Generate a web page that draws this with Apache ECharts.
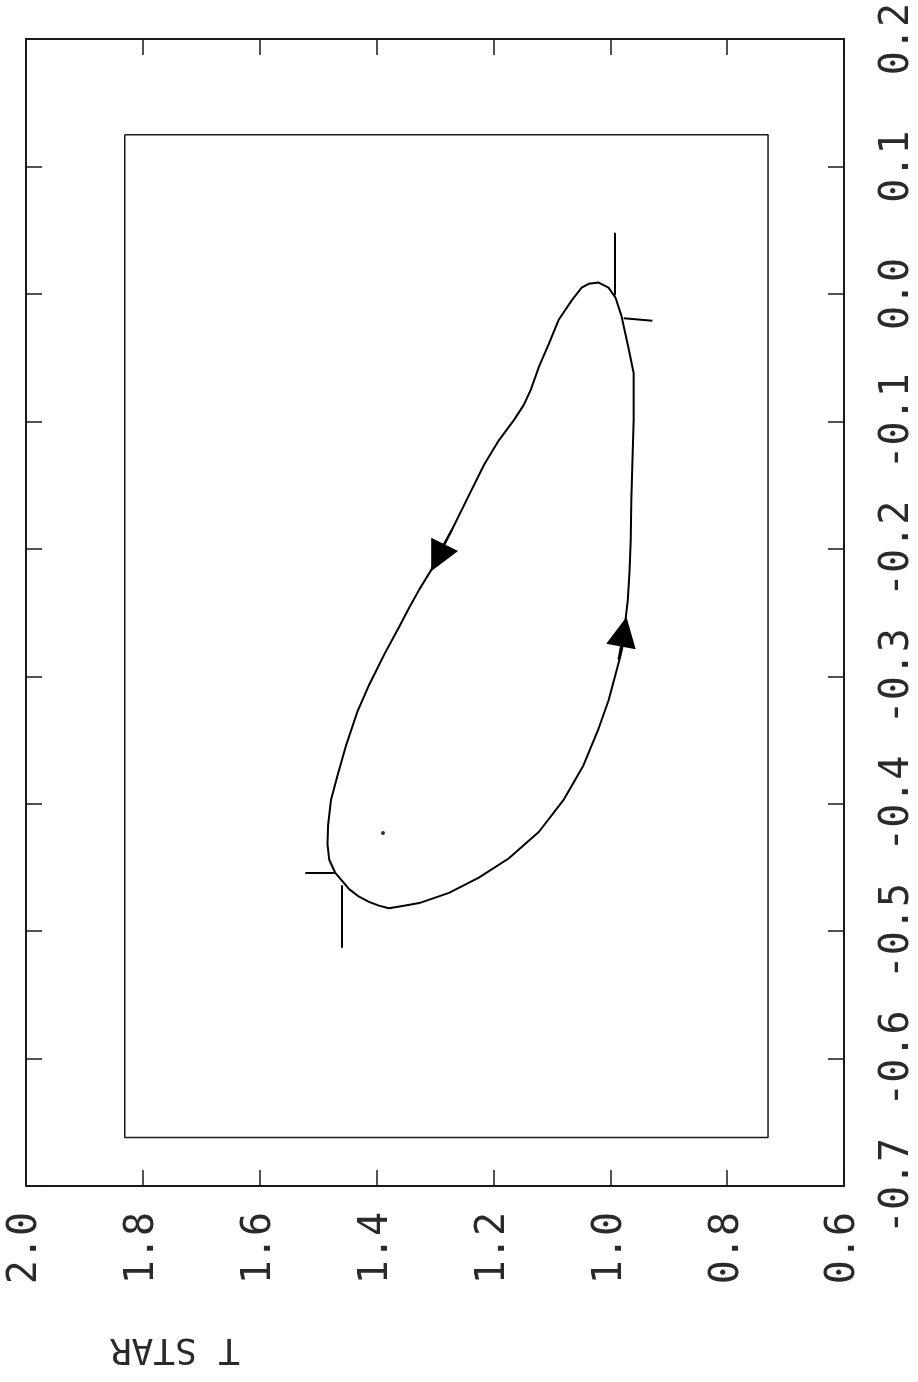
<!DOCTYPE html>
<html>
<head>
<meta charset="utf-8">
<script src="https://cdn.jsdelivr.net/npm/echarts@6/dist/echarts.min.js"></script>
<style>
  html, body { margin: 0; padding: 0; background: #fff; }
  #chart { width: 918px; height: 1382px; }
</style>
</head>
<body>
<div id="chart"></div>
<script>
// Phase-plane loop: T STAR (horizontal, decreasing to the right) versus phase (vertical)
const tTicks = [0.6, 0.8, 1.0, 1.2, 1.4, 1.6, 1.8, 2.0];
const phaseTicks = [-0.7, -0.6, -0.5, -0.4, -0.3, -0.2, -0.1, 0.0, 0.1, 0.2];

// Trajectory, traced counter-clockwise from the lowest point
const loopT = [1.379, 1.353, 1.327, 1.276, 1.225, 1.174, 1.122, 1.080, 1.046, 1.020,
  1.003, 0.989, 0.982, 0.977, 0.974, 0.970, 0.967, 0.965, 0.964, 0.962,
  0.960, 0.960, 0.969, 0.981, 0.991, 1.003, 1.020, 1.037, 1.049, 1.066,
  1.088, 1.105, 1.122, 1.136, 1.148, 1.165, 1.191, 1.216, 1.242, 1.271,
  1.293, 1.307, 1.327, 1.344, 1.361, 1.387, 1.413, 1.433, 1.452, 1.467,
  1.478, 1.483, 1.484, 1.481, 1.471, 1.460, 1.447, 1.430, 1.413, 1.396, 1.379];
const loopPhase = [-0.482, -0.480, -0.478, -0.470, -0.458, -0.443, -0.422, -0.397, -0.370, -0.341,
  -0.319, -0.295, -0.283, -0.272, -0.256, -0.240, -0.217, -0.193, -0.162, -0.130,
  -0.099, -0.062, -0.042, -0.017, -0.003, 0.005, 0.009, 0.008, 0.005, -0.005,
  -0.020, -0.039, -0.057, -0.075, -0.087, -0.099, -0.115, -0.134, -0.158, -0.185,
  -0.203, -0.217, -0.232, -0.246, -0.261, -0.283, -0.307, -0.328, -0.354, -0.378,
  -0.397, -0.417, -0.432, -0.444, -0.454, -0.460, -0.467, -0.473, -0.477, -0.480, -0.482];

// Window rectangle (T range, phase range)
const windowT = [1.831, 0.730];
const windowPhase = [0.125, -0.662];

// Marker strokes: [[T1, phase1], [T2, phase2]]
const markerSegments = [
  [[0.993, 0.048], [0.993, -0.001]],
  [[0.977, -0.019], [0.928, -0.021]],
  [[1.522, -0.454], [1.472, -0.454]],
  [[1.459, -0.464], [1.459, -0.513]]
];

// Direction arrows: [[T, phase] tail, [T, phase] head]
const arrowSegments = [
  [[1.271, -0.185], [1.295, -0.207]],
  [[0.986, -0.287], [0.977, -0.265]]
];

// Isolated point inside the loop
const centrePoint = [[1.389, -0.423]];

const INK = '#1a1a1a';
const labelFont = { fontFamily: 'DejaVu Sans Mono', fontSize: 40, color: '#2a2a2a' };

const loopData = loopT.map((t, i) => [t, loopPhase[i]]);
const windowData = [
  [windowT[0], windowPhase[0]], [windowT[1], windowPhase[0]],
  [windowT[1], windowPhase[1]], [windowT[0], windowPhase[1]],
  [windowT[0], windowPhase[0]]
];

const baseX = {
  type: 'value', min: tTicks[0], max: tTicks[tTicks.length - 1], interval: 0.2, inverse: true,
  splitLine: { show: false },
  axisLine: { show: true, onZero: false, lineStyle: { color: INK, width: 2 } },
  axisTick: { show: true, inside: true, length: 16, lineStyle: { color: INK, width: 1.5 } }
};
const baseY = {
  type: 'value', min: phaseTicks[0], max: phaseTicks[phaseTicks.length - 1], interval: 0.1,
  splitLine: { show: false },
  axisLine: { show: true, onZero: false, lineStyle: { color: INK, width: 2 } },
  axisTick: { show: true, inside: true, length: 16, lineStyle: { color: INK, width: 1.5 } }
};

const chart = echarts.init(document.getElementById('chart'), null, { renderer: 'canvas' });
chart.setOption({
  animation: false,
  backgroundColor: '#fff',
  grid: { left: 26, right: 72, top: 39, bottom: 196 },
  xAxis: [
    Object.assign({}, baseX, {
      position: 'bottom',
      axisLabel: Object.assign({ rotate: 90, margin: 26, formatter: v => v.toFixed(1) }, labelFont)
    }),
    Object.assign({}, baseX, { position: 'top', axisLabel: { show: false } })
  ],
  yAxis: [
    Object.assign({}, baseY, {
      position: 'right',
      axisLabel: Object.assign({ rotate: 90, margin: 34, formatter: v => v.toFixed(1) }, labelFont)
    }),
    Object.assign({}, baseY, { position: 'left', axisLabel: { show: false } })
  ],
  graphic: [{
    type: 'text', left: 110, top: 1330, rotation: Math.PI, originX: 0, originY: 0,
    style: { text: 'T STAR', fontFamily: 'DejaVu Sans Mono', fontSize: 36, fill: '#2a2a2a' }
  }],
  series: [
    {
      name: 'window', type: 'line', data: windowData, showSymbol: false, silent: true,
      lineStyle: { color: INK, width: 1.5 }
    },
    {
      name: 'loop', type: 'line', data: loopData, showSymbol: false,
      lineStyle: { color: '#000', width: 2 }
    },
    {
      name: 'markers', type: 'lines', coordinateSystem: 'cartesian2d',
      data: markerSegments.map(c => ({ coords: c })),
      lineStyle: { color: '#000', width: 2, opacity: 1 }
    },
    {
      name: 'direction', type: 'lines', coordinateSystem: 'cartesian2d',
      symbol: ['none', 'triangle'], symbolSize: [12, 30],
      data: arrowSegments.map(c => ({ coords: c })),
      lineStyle: { color: '#000', width: 2, opacity: 1 }
    },
    {
      name: 'centre', type: 'scatter', data: centrePoint, symbolSize: 4,
      itemStyle: { color: '#000' }
    }
  ]
});
</script>
</body>
</html>
